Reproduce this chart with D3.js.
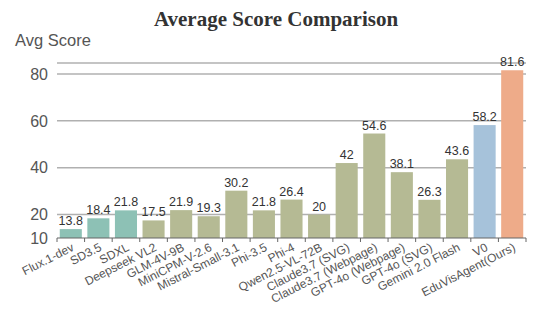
<!DOCTYPE html>
<html>
<head>
<meta charset="utf-8">
<script src="https://cdn.jsdelivr.net/npm/d3@7"></script>
<style>
  body { margin: 0; background: #fff; }
  text { font-family: "Liberation Sans", Arial, sans-serif; }
</style>
</head>
<body>
<div id="chart"></div>
<script>
// data
var models = ["Flux.1-dev", "SD3.5", "SDXL", "Deepseek VL2", "GLM-4V-9B", "MiniCPM-V-2.6",
  "Mistral-Small-3.1", "Phi-3.5", "Phi-4", "Qwen2.5-VL-72B", "Claude3.7 (SVG)",
  "Claude3.7 (Webpage)", "GPT-4o (Webpage)", "GPT-4o (SVG)", "Gemini 2.0 Flash", "V0", "EduVisAgent(Ours)"];
var scores = [13.8, 18.4, 21.8, 17.5, 21.9, 19.3, 30.2, 21.8, 26.4, 20, 42, 54.6, 38.1, 26.3, 43.6, 58.2, 81.6];
var groups = ["img", "img", "img", "vlm", "vlm", "vlm", "vlm", "vlm", "vlm", "vlm", "vlm",
  "vlm", "vlm", "vlm", "vlm", "v0", "ours"];
var yTicks = [10, 20, 40, 60, 80];

(function() {
  var width = 553, height = 318;
  var margin = { top: 63, left: 57, right: 27, bottom: 80 };

  var svg = d3.select("#chart").append("svg")
    .attr("width", width)
    .attr("height", height);

  var x = d3.scaleBand()
    .domain(models)
    .range([margin.left, width - margin.right])
    .paddingInner(0.2)
    .paddingOuter(0.1);

  var y = d3.scaleLinear()
    .domain([10, 84.7])
    .range([height - margin.bottom, margin.top]);

  var color = d3.scaleOrdinal()
    .domain(["img", "vlm", "v0", "ours"])
    .range(["#8dc1b5", "#b5ba94", "#a6c2da", "#eeab89"]);

  // title
  svg.append("text")
    .attr("x", 276)
    .attr("y", 26)
    .attr("text-anchor", "middle")
    .style("font-family", "'Liberation Serif', 'Times New Roman', serif")
    .style("font-weight", "bold")
    .style("font-size", "21px")
    .style("fill", "#333")
    .text("Average Score Comparison");

  svg.append("text")
    .attr("x", 15)
    .attr("y", 46)
    .style("font-size", "16.5px")
    .style("fill", "#555")
    .text("Avg Score");

  // gridlines
  svg.selectAll(".grid")
    .data(yTicks.slice(1).concat([84.7]))
    .enter()
    .append("line")
    .attr("class", "grid")
    .attr("x1", margin.left)
    .attr("x2", width - margin.right)
    .attr("y1", function(d) { return y(d); })
    .attr("y2", function(d) { return y(d); })
    .style("stroke", "#b0b0b0")
    .style("stroke-width", 1.5);

  // y tick labels
  svg.selectAll(".ylab")
    .data(yTicks)
    .enter()
    .append("text")
    .attr("class", "ylab")
    .attr("x", 48)
    .attr("y", function(d) { return y(d); })
    .attr("dy", "0.36em")
    .attr("text-anchor", "end")
    .style("font-size", "16px")
    .style("fill", "#555")
    .text(function(d) { return d; });

  // bars
  svg.selectAll(".bar")
    .data(models)
    .enter()
    .append("rect")
    .attr("class", "bar")
    .attr("x", function(d) { return x(d); })
    .attr("width", x.bandwidth())
    .attr("y", function(d, i) { return y(scores[i]); })
    .attr("height", function(d, i) { return y(10) - y(scores[i]); })
    .attr("fill", function(d, i) { return color(groups[i]); });

  // value labels
  svg.selectAll(".val")
    .data(models)
    .enter()
    .append("text")
    .attr("class", "val")
    .attr("x", function(d) { return x(d) + x.bandwidth() / 2; })
    .attr("y", function(d, i) { return y(scores[i]) - 4; })
    .attr("text-anchor", "middle")
    .style("font-size", "12.5px")
    .style("fill", "#333")
    .text(function(d, i) { return scores[i]; });

  // x axis
  var axisY = y(10);
  var step = x.step();
  var edges = d3.range(models.length + 1).map(function(i) {
    return x(models[0]) - x.paddingInner() * step / 2 + i * step;
  });

  svg.append("line")
    .attr("x1", edges[0])
    .attr("x2", edges[edges.length - 1])
    .attr("y1", axisY)
    .attr("y2", axisY)
    .style("stroke", "#666")
    .style("stroke-width", 1.2);

  svg.selectAll(".tick")
    .data(edges)
    .enter()
    .append("line")
    .attr("class", "tick")
    .attr("x1", function(d) { return d; })
    .attr("x2", function(d) { return d; })
    .attr("y1", axisY)
    .attr("y2", axisY + 4)
    .style("stroke", "#666");

  svg.selectAll(".xlab")
    .data(models)
    .enter()
    .append("text")
    .attr("class", "xlab")
    .attr("text-anchor", "end")
    .attr("transform", function(d) {
      return "translate(" + (x(d) + x.bandwidth() / 2 + 4) + "," + (axisY + 12) + ") rotate(-27)";
    })
    .style("font-size", "12px")
    .style("fill", "#555")
    .text(function(d) { return d; });
})();
</script>
</body>
</html>
